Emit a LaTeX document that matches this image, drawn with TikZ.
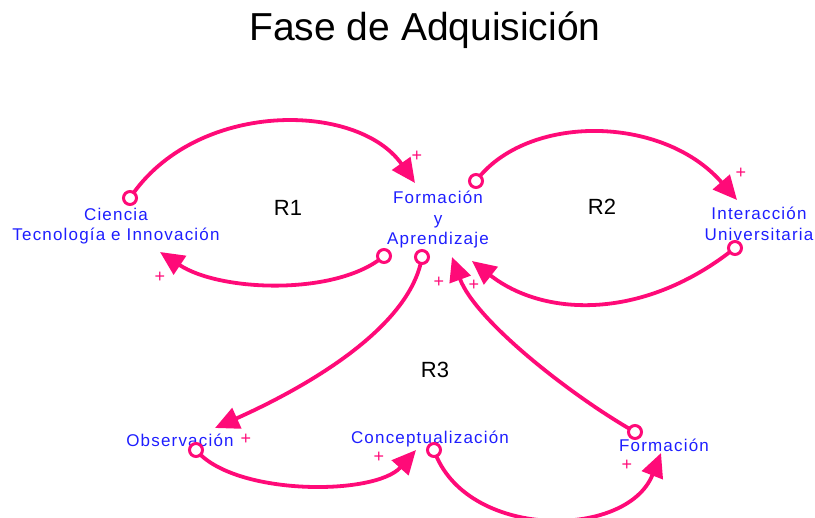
\documentclass[tikz,border=0pt]{standalone}
\usepackage{fontspec}
\setmainfont{Liberation Sans}
\newfontfamily\labfont[LetterSpace=7]{Liberation Sans}
\usetikzlibrary{arrows.meta}
\definecolor{lpink}{RGB}{255,10,120}
\definecolor{lblue}{RGB}{30,30,255}
\tikzset{
  x=1pt, y=-1pt,
  var/.style={text=lblue, font=\labfont\fontsize{17}{20.5}\selectfont, align=center, inner sep=0pt},
  loopname/.style={text=black, font=\fontsize{22}{24}\selectfont, inner sep=0pt},
  link/.style={draw=lpink, line width=3.8pt, -{Triangle[length=24pt,width=22pt]}},
  tailc/.style={circle, draw=lpink, fill=white, line width=3pt, minimum size=13pt, inner sep=0pt},
  pol/.style={text=lpink, font=\fontsize{18}{18}\selectfont, inner sep=0pt},
}
\begin{document}
\begin{tikzpicture}
\useasboundingbox (0,0) rectangle (815,518);
\node[font=\fontsize{39}{42}\selectfont, inner sep=0pt] (title) at (425,30) {Fase de Adquisición};

% variables
\node[var] (cti) at (116,226) {Ciencia\\Tecnología e Innovación};
\node[var] (fa) at (438,220) {Formación\\y\\Aprendizaje};
\node[var] (iu) at (759,224) {Interacción\\Universitaria};
\node[var] (obs) at (180,440) {Observación};
\node[var] (con) at (430,439) {Conceptualización};
\node[var] (for) at (664,445) {Formación};

% loop labels
\node[loopname] (r1) at (288,208) {R1};
\node[loopname] (r2) at (602,207) {R2};
\node[loopname] (r3) at (435,370) {R3};

% connector ends
\coordinate (ctiT) at (130,198);
\coordinate (faIn1) at (415,183);
\coordinate (faT1) at (384,256);
\coordinate (ctiIn) at (160,252);
\coordinate (faT2) at (476,181);
\coordinate (iuIn) at (737,200);
\coordinate (iuT) at (735,248);
\coordinate (faIn2) at (472,261);
\coordinate (faT3) at (422,257);
\coordinate (obsIn) at (215,428);
\coordinate (forT) at (635,432);
\coordinate (faIn3) at (452,257);
\coordinate (obsT) at (196,450);
\coordinate (conIn) at (416,450);
\coordinate (conT) at (434,450);
\coordinate (forIn) at (661,453);

% connectors
\draw[link] (ctiT) .. controls (195,100) and (357,101) .. (faIn1);
\draw[link] (faT1) .. controls (337,296) and (220,292) .. (ctiIn);
\draw[link] (faT2) .. controls (526,114) and (662,114) .. (iuIn);
\draw[link] (iuT) .. controls (645,320) and (545,318) .. (faIn2);
\draw[link] (faT3) .. controls (410,330) and (300,390) .. (obsIn);
\draw[link] (forT) .. controls (570,395) and (475,320) .. (faIn3);
\draw[link] (obsT) .. controls (234,496) and (375,496) .. (conIn);
\draw[link] (conT) .. controls (465,540) and (627,540) .. (forIn);

% tail circles
\foreach \c in {ctiT,faT1,faT2,iuT,faT3,forT,obsT,conT}
  \node[tailc] (tc\c) at (\c) {};

% polarities
\node[pol] (p1) at (417,156) {+};
\node[pol] (p2) at (160,277) {+};
\node[pol] (p3) at (741,173) {+};
\node[pol] (p4) at (474,285) {+};
\node[pol] (p5) at (246,439) {+};
\node[pol] (p6) at (439,282) {+};
\node[pol] (p7) at (379,457) {+};
\node[pol] (p8) at (627,465) {+};
\end{tikzpicture}
\end{document}
